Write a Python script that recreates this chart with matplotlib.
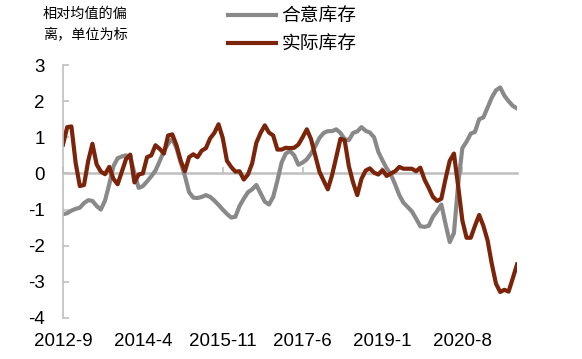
import matplotlib
matplotlib.use("Agg")
import matplotlib.pyplot as plt
import numpy as np

plt.rcParams['font.family'] = ['Liberation Sans', 'Noto Sans CJK SC', 'DejaVu Sans']

# months from 2012-9 to 2021-9
months = [f"{2012 + (8 + k) // 12}-{(8 + k) % 12 + 1}" for k in range(109)]

consensus = [
    -1.13, -1.10, -1.03, -0.98, -0.95, -0.82, -0.74, -0.76, -0.90, -1.00,
    -0.75, -0.30, 0.20, 0.42, 0.47, 0.50, 0.45, 0.00, -0.40, -0.35,
    -0.22, -0.08, 0.08, 0.34, 0.62, 0.82, 0.96, 0.70, 0.30, -0.07,
    -0.52, -0.67, -0.68, -0.65, -0.60, -0.65, -0.75, -0.87, -1.00, -1.12,
    -1.22, -1.20, -0.90, -0.70, -0.52, -0.44, -0.32, -0.55, -0.78, -0.86,
    -0.65, -0.20, 0.30, 0.55, 0.62, 0.50, 0.24, 0.30, 0.39, 0.55,
    0.75, 0.98, 1.12, 1.17, 1.17, 1.22, 1.12, 0.95, 0.92, 1.12,
    1.16, 1.28, 1.18, 1.13, 1.00, 0.60, 0.36, 0.14, -0.03, -0.30,
    -0.60, -0.81, -0.93, -1.05, -1.25, -1.46, -1.48, -1.45, -1.20, -1.04,
    -0.86, -1.40, -1.90, -1.65, -0.30, 0.70, 0.88, 1.10, 1.15, 1.50,
    1.55, 1.82, 2.10, 2.30, 2.38, 2.15, 2.00, 1.87, 1.80,
]

actual = [
    0.80, 1.28, 1.30, 0.30, -0.35, -0.32, 0.35, 0.82, 0.25, 0.05,
    -0.02, 0.18, -0.15, -0.30, 0.05, 0.40, 0.52, -0.25, -0.03, 0.00,
    0.45, 0.50, 0.78, 0.68, 0.55, 1.05, 1.08, 0.78, 0.35, 0.06,
    0.45, 0.53, 0.45, 0.63, 0.70, 0.97, 1.12, 1.36, 0.98, 0.35,
    0.18, 0.05, 0.06, -0.17, -0.03, 0.28, 0.85, 1.12, 1.33, 1.13,
    1.05, 0.66, 0.66, 0.71, 0.70, 0.71, 0.80, 1.00, 1.22, 0.95,
    0.50, 0.05, -0.20, -0.44, -0.05, 0.45, 0.96, 0.92, 0.20, -0.25,
    -0.60, -0.15, 0.08, 0.14, 0.02, -0.03, 0.09, -0.07, 0.00, 0.06,
    0.18, 0.13, 0.13, 0.13, 0.06, 0.16, -0.17, -0.40, -0.65, -0.76,
    -0.70, -0.15, 0.35, 0.55, -0.35, -1.30, -1.78, -1.78, -1.45, -1.15,
    -1.45, -1.85, -2.50, -3.05, -3.28, -3.22, -3.27, -2.90, -2.52,
]

series_names = ["合意库存", "实际库存"]
x_tick_labels = ["2012-9", "2014-4", "2015-11", "2017-6", "2019-1", "2020-8"]
y_ticks = [3, 2, 1, 0, -1, -2, -3, -4]
y_tick_labels = ["3", "2", "1", "0", "-1", "-2", "-3", "-4"]
note = "相对均值的偏\n离，单位为标"

grey = "#898989"
red = "#7B2409"
axis_col = "#BFBFBF"

fig = plt.figure(figsize=(5.82, 3.59), dpi=100)
ax = fig.add_axes([63 / 582, 1 - 318 / 359, (517 - 63) / 582, (318 - 65) / 359])

x = np.arange(len(months))
l1, = ax.plot(x, consensus, color=grey, lw=3.0, solid_joinstyle='round', label=series_names[0])
l2, = ax.plot(x, actual, color=red, lw=3.0, solid_joinstyle='round', label=series_names[1])

ax.set_xlim(0, len(months) - 1)
ax.set_ylim(-4, 3)

for s in ['top', 'right']:
    ax.spines[s].set_visible(False)
ax.spines['left'].set_color(axis_col)
ax.spines['left'].set_linewidth(1.2)
ax.spines['bottom'].set_position(('data', 0))
ax.spines['bottom'].set_color(axis_col)
ax.spines['bottom'].set_linewidth(1.8)
ax.spines['bottom'].set_zorder(0.5)

ax.set_yticks(y_ticks)
ax.set_yticklabels(y_tick_labels)
ax.tick_params(axis='y', direction='in', length=4.5, width=1.2, color=axis_col,
               labelsize=13.5, pad=13, labelcolor='black')

tick_pos = [months.index(lbl) for lbl in x_tick_labels]
ax.set_xticks(tick_pos)
ax.set_xticklabels([])
ax.tick_params(axis='x', direction='in', length=4, width=1.2, color=axis_col)

sec = ax.secondary_xaxis('bottom')
sec.set_xticks(tick_pos)
sec.set_xticklabels(x_tick_labels)
sec.spines['bottom'].set_visible(False)
sec.tick_params(length=0, pad=11, labelsize=13.5, labelcolor='black')

fig.text(43 / 582, 1 - 7 / 359, note, ha='left', va='top', fontsize=10.2,
         family=['Noto Sans CJK SC'], linespacing=1.6)

fig.legend(handles=[l1, l2], loc='upper left', bbox_to_anchor=(228 / 582, 1 - 6 / 359),
           frameon=False, fontsize=13.5, handlelength=2.55, handletextpad=0.3,
           labelspacing=0.35, borderpad=0, borderaxespad=0,
           prop={'family': ['Noto Sans CJK SC'], 'size': 13.5})

fig.savefig("out.png", dpi=100)
